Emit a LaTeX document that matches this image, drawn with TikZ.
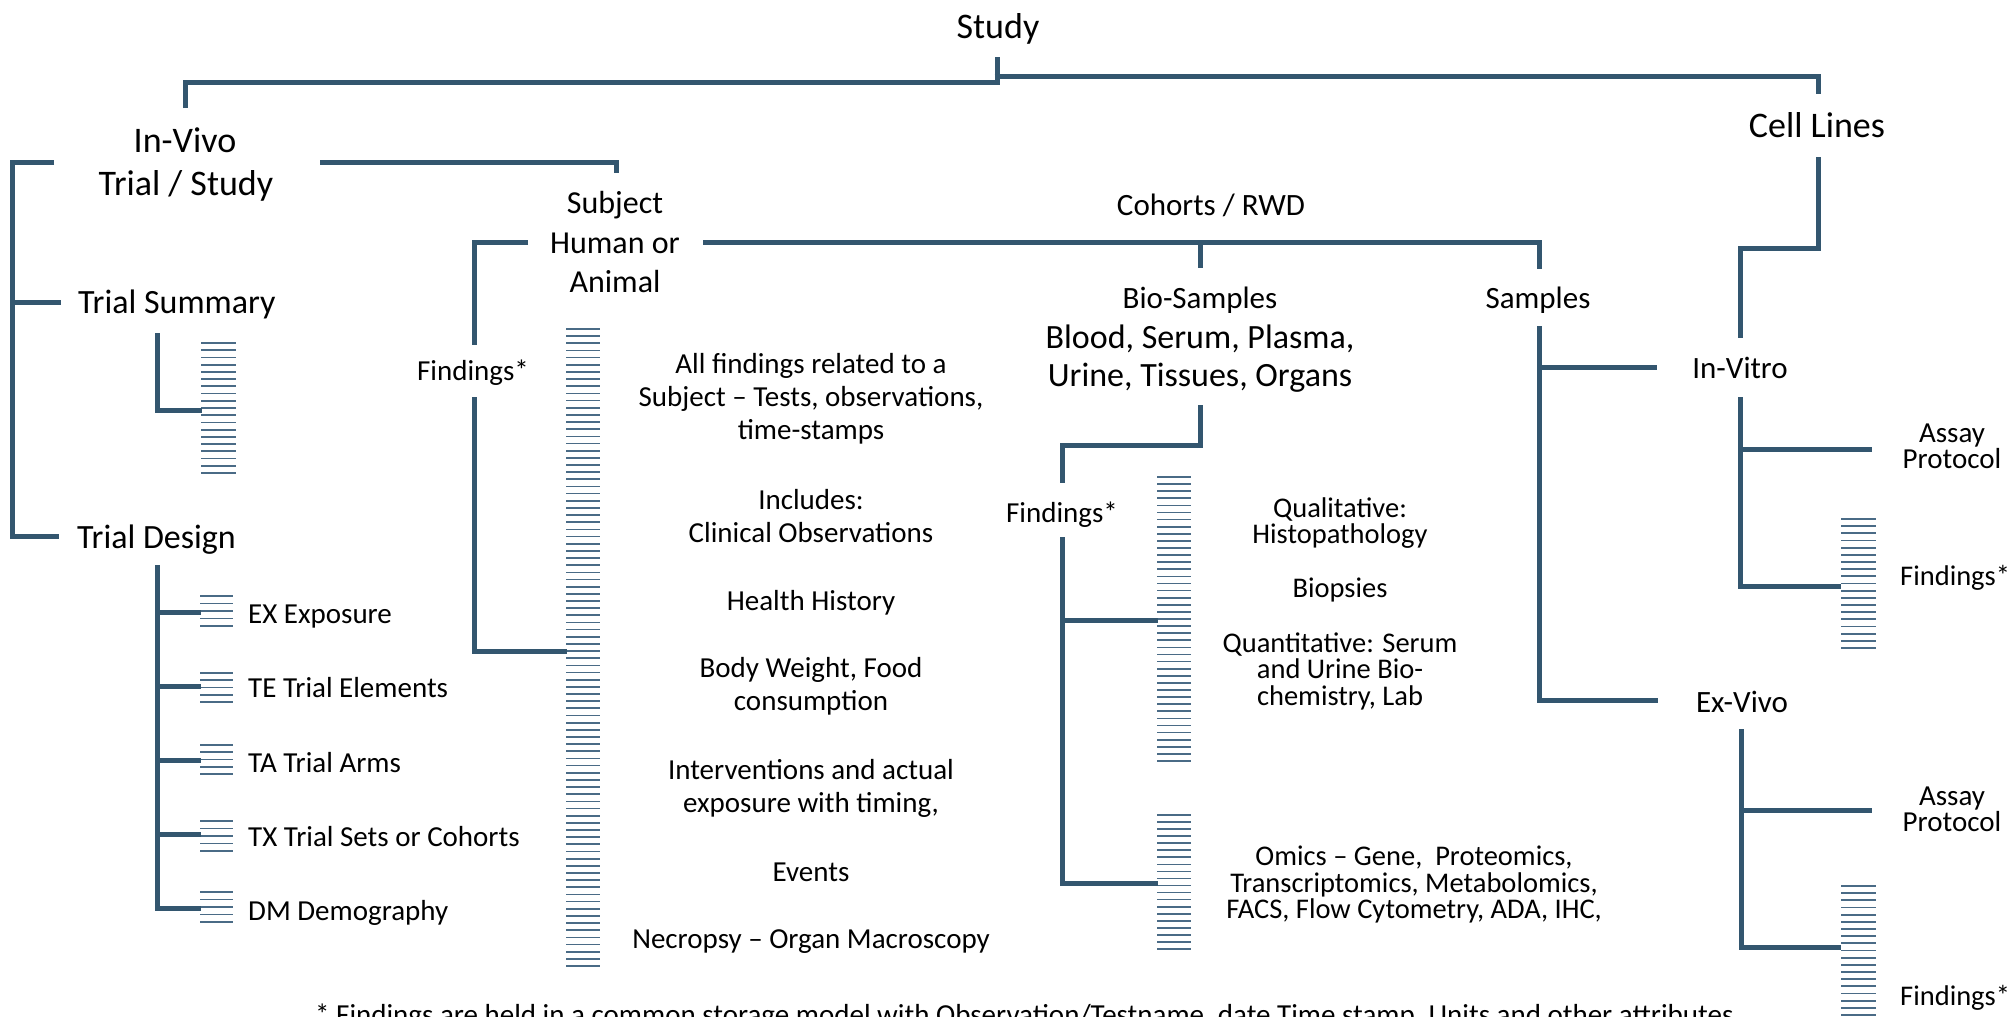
\documentclass[tikz,border=0pt]{standalone}
\usepackage{fontspec}
\setmainfont{Carlito}
\definecolor{lnk}{HTML}{33566F}
\definecolor{stripe}{HTML}{4A6B86}
% a stack of thin horizontal rules: x0, x1, y0, y1, number of gaps
\newcommand\stripeset[5]{%
  \foreach \k in {0,...,#5}{\draw[bar] (#1,{#3+\k*((#4-#3)/#5)}) -- (#2,{#3+\k*((#4-#3)/#5)});}}
\begin{document}
\begin{tikzpicture}[x=1bp,y=-1bp,
  link/.style={draw=lnk,line width=5bp,line join=miter},
  bar/.style={draw=stripe,line width=1.7bp},
  lbl/.style={inner sep=0pt,anchor=base},
  lbw/.style={inner sep=0pt,anchor=base west},
  fa/.style={font=\fontsize{36bp}{40bp}\selectfont},
  fb/.style={font=\fontsize{34bp}{38bp}\selectfont},
  fc/.style={font=\fontsize{32bp}{36bp}\selectfont},
  fd/.style={font=\fontsize{31bp}{35bp}\selectfont},
  fe/.style={font=\fontsize{29bp}{33bp}\selectfont},
  ff/.style={font=\fontsize{28.5bp}{32bp}\selectfont},
]
\useasboundingbox (0,0) rectangle (2010,1016);
\clip (0,0) rectangle (2010,1016);
\fill[white] (0,0) rectangle (2010,1016);

% ---------- labels ----------
\node[lbl,fa] (study) at (998,38) {Study};
\node[lbl,fa] (invivo) at (185,152) {In-Vivo};
\node[lbl,fa] (trialstudy) at (186,195) {Trial / Study};
\node[lbl,fa] (celllines) at (1817,137) {Cell Lines};

\node[lbw,fb] (tsum) at (78,313) {Trial Summary};
\node[lbw,fb] (tdes) at (77,548) {Trial Design};
\node[lbw,fe] (ex) at (248,623) {EX Exposure};
\node[lbw,fe] (te) at (248,697) {TE Trial Elements};
\node[lbw,fe] (ta) at (248,772) {TA Trial Arms};
\node[lbw,fe] (tx) at (248,846) {TX Trial Sets or Cohorts};
\node[lbw,fe] (dm) at (248,920) {DM Demography};

\node[lbl,fc] (subj1) at (615,213) {Subject};
\node[lbl,fc] (subj2) at (615,253) {Human or};
\node[lbl,fc] (subj3) at (615,292) {Animal};
\node[lbl,fe] (findsubj) at (473,380) {Findings*};

\node[lbl,fe] (m1) at (811,373) {All findings related to a};
\node[lbl,fe] (m2) at (811,406) {Subject – Tests, observations,};
\node[lbl,fe] (m3) at (811,439) {time-stamps};
\node[lbl,fe] (m4) at (811,509) {Includes:};
\node[lbl,fe] (m5) at (811,542) {Clinical Observations};
\node[lbl,fe] (m6) at (811,610) {Health History};
\node[lbl,fe] (m7) at (811,677) {Body Weight, Food};
\node[lbl,fe] (m8) at (811,710) {consumption};
\node[lbl,fe] (m9) at (811,779) {Interventions and actual};
\node[lbl,fe] (m10) at (811,812) {exposure with timing,};
\node[lbl,fe] (m11) at (811,881) {Events};
\node[lbl,fe] (m12) at (811,948) {Necropsy – Organ Macroscopy};

\node[lbl,fd] (cohorts) at (1211,215) {Cohorts / RWD};
\node[lbl,fd] (bio1) at (1200,308) {Bio-Samples};
\node[lbl,fb] (bio2) at (1200,348) {Blood, Serum, Plasma,};
\node[lbl,fb] (bio3) at (1200,386) {Urine, Tissues, Organs};
\node[lbl,fe] (findbio) at (1062,522) {Findings*};

\node[lbl,ff] (q1) at (1340,517) {Qualitative:};
\node[lbl,ff] (q2) at (1340,543) {Histopathology};
\node[lbl,ff] (q3) at (1340,597) {Biopsies};
\node[lbl,ff] (q4) at (1340,652) {Quantitative: Serum};
\node[lbl,ff] (q5) at (1340,678) {and Urine Bio-};
\node[lbl,ff] (q6) at (1340,705) {chemistry, Lab};
\node[lbl,ff] (o1) at (1414,865) {Omics – Gene,\ \ Proteomics,};
\node[lbl,ff] (o2) at (1414,892) {Transcriptomics, Metabolomics,};
\node[lbl,ff] (o3) at (1414,918) {FACS, Flow Cytometry, ADA, IHC,};

\node[lbl,fd] (samples) at (1538,308) {Samples};
\node[lbl,fd] (invitro) at (1740,378) {In-Vitro};
\node[lbl,fd] (exvivo) at (1742,712) {Ex-Vivo};
\node[lbl,fe] (assay1a) at (1952,442) {Assay};
\node[lbl,fe] (assay1b) at (1952,468) {Protocol};
\node[lbw,ff] (findvitro) at (1900,585) {Findings*};
\node[lbl,fe] (assay2a) at (1952,805) {Assay};
\node[lbl,fe] (assay2b) at (1952,831) {Protocol};
\node[lbw,ff] (findvivo) at (1900,1005) {Findings*};

\node[lbw,fe] (note) at (315,1024) {* Findings are held in a common storage model with Observation/Testname, date Time stamp, Units and other attributes};

% ---------- record stacks ----------
\stripeset{201}{236}{343}{473}{18}
\stripeset{200}{233}{596}{626}{4}
\stripeset{200}{233}{673}{702}{4}
\stripeset{200}{233}{745}{774}{4}
\stripeset{200}{233}{821}{851}{4}
\stripeset{200}{233}{892}{922}{4}
\stripeset{566}{600}{329}{966}{89}
\stripeset{1157}{1191}{477}{761}{40}
\stripeset{1157}{1191}{815}{949}{19}
\stripeset{1841}{1876}{519}{648}{18}
\stripeset{1841}{1876}{886}{1015}{18}

% ---------- connectors ----------
% Study
\coordinate (a1) at (185,108); \coordinate (a2) at (185,82); \coordinate (a3) at (999.5,82);
\coordinate (a4) at (997,57); \coordinate (a5) at (997,85);
\coordinate (a6) at (994.5,76); \coordinate (a7) at (1818,76); \coordinate (a8) at (1818,94);
\draw[link] (a1) -- (a2) -- (a3);
\draw[link] (a4) -- (a5);
\draw[link] (a6) -- (a7) -- (a8);
% In-Vivo, left side
\coordinate (b1) at (54,162); \coordinate (b2) at (12,162); \coordinate (b3) at (12,536); \coordinate (b4) at (59,536);
\coordinate (b5) at (12,302); \coordinate (b6) at (61,302);
\draw[link] (b1) -- (b2) -- (b3) -- (b4);
\draw[link] (b5) -- (b6);
% In-Vivo, right side
\coordinate (c1) at (320,162); \coordinate (c2) at (616,162); \coordinate (c3) at (616,173);
\draw[link] (c1) -- (c2) -- (c3);
% Trial Summary
\coordinate (d1) at (157,333); \coordinate (d2) at (157,410); \coordinate (d3) at (202,410);
\draw[link] (d1) -- (d2) -- (d3);
% Trial Design
\coordinate (e0) at (157,565);
\foreach \y [count=\i] in {612,686,760,834,908}{
  \coordinate (tdl\i) at (157,\y); \coordinate (tdr\i) at (201,\y);}
\draw[link] (e0) -- (tdl5) -- (tdr5);
\foreach \i in {1,...,4}{\draw[link] (tdl\i) -- (tdr\i);}
% Subject
\coordinate (f1) at (528,242); \coordinate (f2) at (474,242); \coordinate (f3) at (474,345);
\coordinate (f4) at (474,397); \coordinate (f5) at (474,651); \coordinate (f6) at (567,651);
\draw[link] (f1) -- (f2) -- (f3);
\draw[link] (f4) -- (f5) -- (f6);
% Cohorts
\coordinate (g1) at (703,242); \coordinate (g2) at (1539,242); \coordinate (g3) at (1539,269);
\coordinate (g4) at (1200,242); \coordinate (g5) at (1200,268);
\draw[link] (g1) -- (g2) -- (g3);
\draw[link] (g4) -- (g5);
% Bio-Samples
\coordinate (h1) at (1200,405); \coordinate (h2) at (1200,445); \coordinate (h3) at (1062,445); \coordinate (h4) at (1062,483);
\coordinate (h5) at (1062,537); \coordinate (h6) at (1062,883); \coordinate (h7) at (1158,883);
\coordinate (h8) at (1062,620); \coordinate (h9) at (1158,620);
\draw[link] (h1) -- (h2) -- (h3) -- (h4);
\draw[link] (h5) -- (h6) -- (h7);
\draw[link] (h8) -- (h9);
% Samples
\coordinate (i1) at (1539,326); \coordinate (i2) at (1539,700); \coordinate (i3) at (1658,700);
\coordinate (i4) at (1539,367); \coordinate (i5) at (1657,367);
\draw[link] (i1) -- (i2) -- (i3);
\draw[link] (i4) -- (i5);
% Cell Lines
\coordinate (j1) at (1818,157); \coordinate (j2) at (1818,248); \coordinate (j3) at (1740,248); \coordinate (j4) at (1740,338);
\draw[link] (j1) -- (j2) -- (j3) -- (j4);
% In-Vitro
\coordinate (k1) at (1740,397); \coordinate (k2) at (1740,586); \coordinate (k3) at (1841,586);
\coordinate (k4) at (1740,449); \coordinate (k5) at (1872,449);
\draw[link] (k1) -- (k2) -- (k3);
\draw[link] (k4) -- (k5);
% Ex-Vivo
\coordinate (l1) at (1741,729); \coordinate (l2) at (1741,947); \coordinate (l3) at (1841,947);
\coordinate (l4) at (1741,810); \coordinate (l5) at (1872,810);
\draw[link] (l1) -- (l2) -- (l3);
\draw[link] (l4) -- (l5);
\end{tikzpicture}
\end{document}
